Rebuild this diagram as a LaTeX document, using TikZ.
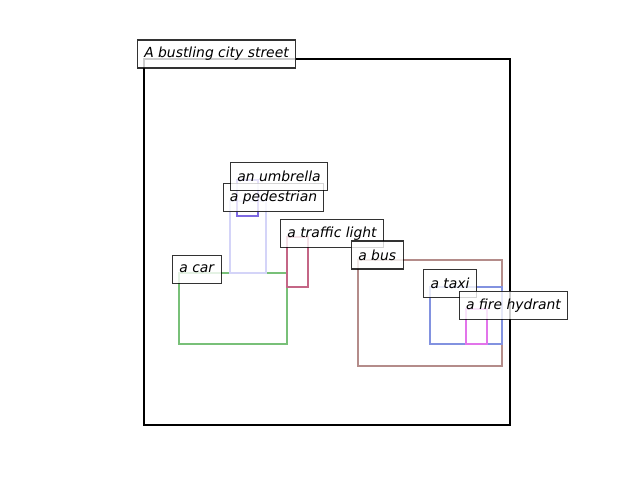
\documentclass[tikz,border=0pt]{standalone}
\usepackage{fontspec}
\setmainfont{DejaVu Sans}
\definecolor{carc}{HTML}{78C078}
\definecolor{pedc}{HTML}{D4D4F8}
\definecolor{umbc}{HTML}{7E6AE2}
\definecolor{tlc}{HTML}{C46686}
\definecolor{busc}{HTML}{B48C8A}
\definecolor{taxic}{HTML}{8292E0}
\definecolor{hydc}{HTML}{E274EA}
\begin{document}
\begin{tikzpicture}[x=0.72pt,y=-0.72pt,
  bbox/.style={line width=1.6pt},
  lbl/.style={draw=black, draw opacity=0.8, fill=white, fill opacity=0.8, text opacity=1,
    line width=0.8pt, inner sep=0pt, minimum height=20.16pt, anchor=center,
    font=\fontsize{10}{12}\selectfont\itshape}]
\useasboundingbox (0,0) rectangle (640,480);
% frame
\draw[line width=1.5pt] (144,59) rectangle (510,425);
% boxes
\draw[bbox, carc] (179,273) rectangle (287,344);
\draw[bbox, pedc] (230,201) rectangle (266,273);
\draw[bbox, umbc] (237,180) rectangle (258,216);
\draw[bbox, tlc] (287,237) rectangle (308,287);
\draw[bbox, busc] (358,260) rectangle (502,366);
\draw[bbox, taxic] (430,287) rectangle (502,344);
\draw[bbox, hydc] (466,309) rectangle (487,344);
% labels
\node[lbl, minimum width=158*0.72pt] (Lframe) at (216.5,54) {A bustling city street};
\node[lbl, minimum width=49*0.72pt] (Lcar) at (196.8,269.2) {a car};
\node[lbl, minimum width=100*0.72pt] (Lped) at (273.5,197.5) {a pedestrian};
\node[lbl, minimum width=97*0.72pt] (Lumb) at (279,176.2) {an umbrella};
\node[lbl, minimum width=103*0.72pt] (Ltl) at (332,233.3) {a traffic light};
\node[lbl, minimum width=52*0.72pt] (Lbus) at (377.2,255) {a bus};
\node[lbl, minimum width=53*0.72pt] (Ltaxi) at (450,283.8) {a taxi};
\node[lbl, minimum width=108*0.72pt] (Lhyd) at (513.5,305.2) {a fire hydrant};
\end{tikzpicture}
\end{document}
